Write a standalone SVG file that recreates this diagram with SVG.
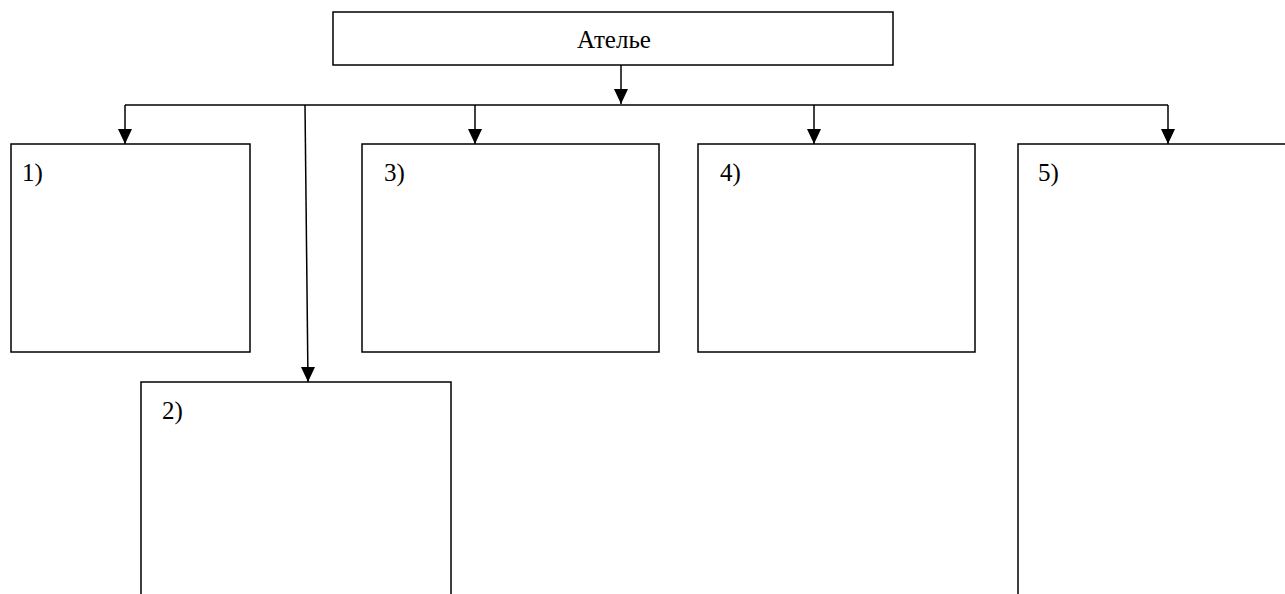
<svg xmlns="http://www.w3.org/2000/svg" width="1285" height="594" viewBox="0 0 1285 594">
<style>
.box{fill:#fff;stroke:#000;stroke-width:1.5}
.ln{fill:none;stroke:#000;stroke-width:1.5}
</style>
<defs>
<marker id="ad" viewBox="0 0 14 15" refX="7" refY="15" markerWidth="14" markerHeight="15" markerUnits="userSpaceOnUse" orient="0">
<path d="M0,0 L14,0 L7,15 Z" fill="#000"/>
</marker>
</defs>
<g font-family="Liberation Serif, Times New Roman, serif" font-size="25" fill="#000">
<g id="node-atelier">
<rect class="box" x="333" y="12" width="560" height="53"/>
<text x="614" y="48" text-anchor="middle">Ателье</text>
</g>
<g id="node-1">
<rect class="box" x="11" y="144" width="239" height="208"/>
<text x="22" y="181">1)</text>
</g>
<g id="node-2">
<path class="box" d="M141,594 L141,382 L451,382 L451,594"/>
<text x="162" y="419">2)</text>
</g>
<g id="node-3">
<rect class="box" x="362" y="144" width="297" height="208"/>
<text x="384" y="181">3)</text>
</g>
<g id="node-4">
<rect class="box" x="698" y="144" width="277" height="208"/>
<text x="720" y="181">4)</text>
</g>
<g id="node-5">
<path class="box" d="M1018,594 L1018,144 L1290,144"/>
<text x="1038" y="181">5)</text>
</g>
</g>
<g id="connectors">
<line class="ln" x1="621" y1="65" x2="621" y2="104" marker-end="url(#ad)"/>
<line class="ln" x1="125" y1="105" x2="1168" y2="105"/>
<line class="ln" x1="125" y1="105" x2="125" y2="144" marker-end="url(#ad)"/>
<line class="ln" x1="305" y1="105" x2="308" y2="382" marker-end="url(#ad)"/>
<line class="ln" x1="475" y1="105" x2="475" y2="144" marker-end="url(#ad)"/>
<line class="ln" x1="814" y1="105" x2="814" y2="144" marker-end="url(#ad)"/>
<line class="ln" x1="1168" y1="105" x2="1168" y2="144" marker-end="url(#ad)"/>
</g>
</svg>
